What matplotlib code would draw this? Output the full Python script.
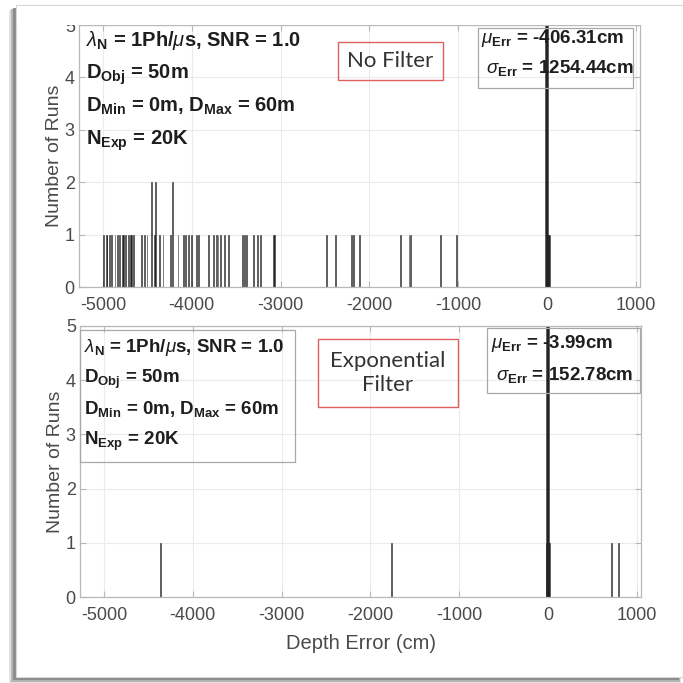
import matplotlib
matplotlib.use('Agg')
import matplotlib.pyplot as plt
from matplotlib.patches import Rectangle

plt.rcParams['font.family'] = ['Liberation Sans', 'DejaVu Sans']
plt.rcParams['mathtext.fontset'] = 'custom'
plt.rcParams['mathtext.rm'] = 'Liberation Sans'
plt.rcParams['mathtext.it'] = 'Liberation Sans:italic'
plt.rcParams['mathtext.bf'] = 'Liberation Sans:bold'
plt.rcParams['axes.unicode_minus'] = False

# histogram bins (depth error, cm, 10 cm wide) and number of runs per bin
nofilt_err = [-4995, -4965, -4955, -4925, -4905, -4865, -4835, -4815, -4785, -4765,
              -4745, -4715, -4695, -4675, -4655, -4565, -4535, -4505, -4455, -4425,
              -4405, -4365, -4325, -4245, -4215, -4155, -4095, -4075, -4035, -4005,
              -3945, -3925, -3815, -3755, -3725, -3705, -3675, -3635, -3585, -3425,
              -3405, -3385, -3305, -3265, -3225, -3085, -3065, -2485, -2385, -2205,
              -2185, -2115, -1655, -1555, -1535, -1205, -1025,
              -15, -5, 5, 15, 25]
nofilt_runs = [1, 1, 1, 1, 1, 1, 1, 1, 1, 1,
               1, 1, 1, 1, 1, 1, 1, 1, 2, 1,
               2, 1, 1, 1, 2, 1, 1, 1, 1, 1,
               1, 1, 1, 1, 1, 1, 1, 1, 1, 1,
               1, 1, 1, 1, 1, 1, 1, 1, 1, 1,
               1, 1, 1, 1, 1, 1, 1,
               5210, 9480, 5185, 1, 1]

expfilt_err = [-4365, -1765, -25, -15, -5, 5, 15, 715, 795]
expfilt_runs = [1, 1, 1, 5840, 8310, 5837, 1, 1, 1]

xticks = [-5000, -4000, -3000, -2000, -1000, 0, 1000]
yticks = [0, 1, 2, 3, 4, 5]

params = [r'$\lambda_{\mathbf{N}}$ = 1Ph/$\mu$s, SNR = 1.0',
          r'D$_{\mathbf{Obj}}$ = 50m',
          r'D$_{\mathbf{Min}}$ = 0m, D$_{\mathbf{Max}}$ = 60m',
          r'N$_{\mathbf{Exp}}$ = 20K']
nofilt_stats = [r'$\mu_{\mathbf{Err}}$ = -406.31cm', r'$\sigma_{\mathbf{Err}}$ = 1254.44cm']
expfilt_stats = [r'$\mu_{\mathbf{Err}}$ = -3.99cm', r'$\sigma_{\mathbf{Err}}$ = 152.78cm']

W = 683.0
def fx(px):
    return px / W
def fy(py):
    return 1 - py / W
def box(x0, y0, x1, y1, **kw):
    r = Rectangle((fx(x0), fy(y1)), (x1 - x0) / W, (y1 - y0) / W,
                  transform=fig.transFigure, **kw)
    fig.add_artist(r)
    return r

fig = plt.figure(figsize=(6.83, 6.83), dpi=100)

# page with a soft drop shadow on the left and bottom
box(9, 10, 681, 683, fc='#e2e2e2', ec='none', zorder=-6)
box(11, 9, 680, 682, fc='#b4b4b4', ec='none', zorder=-5)
box(13, 8, 679, 680, fc='#8c8c8c', ec='none', zorder=-4)
box(16, 5, 683, 677, fc='white', ec='#d6d6d6', lw=0.8, zorder=-3)

ax1 = fig.add_axes([fx(79), fy(287), 561 / W, 262 / W])
ax2 = fig.add_axes([fx(80), fy(597), 561 / W, 271 / W])

for ax, err, runs in [(ax1, nofilt_err, nofilt_runs), (ax2, expfilt_err, expfilt_runs)]:
    ax.bar(err, runs, width=10, color='black', edgecolor='black', linewidth=0.7, alpha=0.5)
    ax.set_xlim(-5270, 1045)
    ax.set_ylim(0, 5)
    ax.set_xticks(xticks)
    ax.set_yticks(yticks)
    ax.grid(True, color='#ebebeb', lw=0.8)
    ax.set_axisbelow(True)
    for s in ax.spines.values():
        s.set_color('#b8b8b8')
        s.set_linewidth(0.9)
    ax.tick_params(direction='in', top=True, right=True, length=4, width=0.8,
                   color='#b8b8b8', labelcolor='#4a4a4a', labelsize=13)
    ax.tick_params(axis='x', pad=7)
    ax.tick_params(axis='y', pad=3)
    ax.set_ylabel('Number of Runs', fontsize=14, color='#4a4a4a')
    ax.yaxis.set_label_coords(-0.028, 0.5)

ax2.set_xlabel('Depth Error (cm)', fontsize=14.5, color='#4a4a4a')
ax2.xaxis.set_label_coords(0.5, -0.135)

# run parameters
for i, s in enumerate(params):
    fig.text(fx(86), fy(46 + 33 * i), s, fontsize=14.5, fontweight='bold',
             color='#1e1e1e', va='baseline', ha='left')
    fig.text(fx(84), fy(352 + 31 * i), s, fontsize=13.5, fontweight='bold',
             color='#1e1e1e', va='baseline', ha='left')
box(80, 330, 295, 462, fc='none', ec='#a8a8a8', lw=0.9, zorder=5)

# error statistics
fig.text(fx(481), fy(43), nofilt_stats[0], fontsize=13.5, fontweight='bold', color='#1e1e1e', va='baseline')
fig.text(fx(486), fy(73), nofilt_stats[1], fontsize=13.5, fontweight='bold', color='#1e1e1e', va='baseline')
box(478, 28, 633, 88, fc='none', ec='#a8a8a8', lw=0.9, zorder=5)
fig.text(fx(491), fy(348), expfilt_stats[0], fontsize=13.5, fontweight='bold', color='#1e1e1e', va='baseline')
fig.text(fx(496), fy(380), expfilt_stats[1], fontsize=13.5, fontweight='bold', color='#1e1e1e', va='baseline')
box(487, 328, 640, 393, fc='none', ec='#a8a8a8', lw=0.9, zorder=5)

# filter labels
box(338, 42, 443, 80, fc='none', ec='#e06060', lw=1.0, zorder=5)
fig.text(fx(390.5), fy(61), 'No Filter', fontsize=16, family='Lato', color='#333333',
         ha='center', va='center')
box(318, 339, 458, 407, fc='none', ec='#e06060', lw=1.0, zorder=5)
fig.text(fx(388), fy(373), 'Exponential\nFilter', fontsize=16, family='Lato', color='#333333',
         ha='center', va='center', linespacing=1.2)

# upper edge of the page cuts through the top plot
box(17, 6, 682, 24.5, fc='white', ec='none', zorder=10)

fig.savefig('out.png', dpi=100)
